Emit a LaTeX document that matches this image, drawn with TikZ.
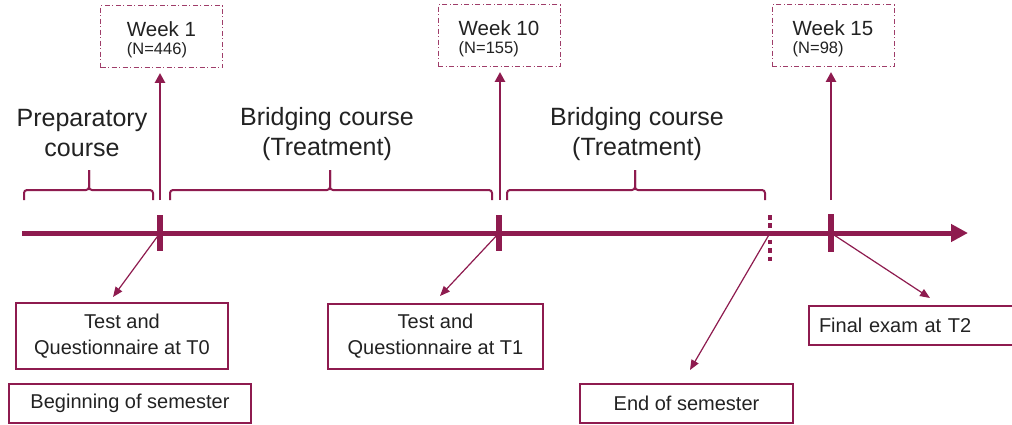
\documentclass[tikz,border=0pt]{standalone}
\usepackage{fontspec}
\setmainfont{Liberation Sans}
\usetikzlibrary{arrows.meta}
\definecolor{mar}{HTML}{8E1B4F}
\definecolor{txt}{HTML}{222222}
\begin{document}
\begin{tikzpicture}[x=1pt,y=-1pt,
 bigtxt/.style={text=txt,font=\fontsize{25}{30}\selectfont,align=center},
 boxtxt/.style={draw=mar,line width=2pt,text=txt,font=\fontsize{20}{26}\selectfont,align=center,inner sep=0pt},
 weekbox/.style={draw=mar!85,line width=0.9pt,dash pattern=on 5pt off 2.5pt on 1pt off 2.5pt,text=txt,align=left,minimum width=122pt,minimum height=62pt,inner sep=0pt,font=\fontsize{20.5}{20}\selectfont},
 bracepath/.style={draw=mar,line width=2pt,rounded corners=3pt},
 tickmark/.style={draw=mar,line width=6pt},
 thinarrow/.style={draw=mar,line width=1.2pt,-{Triangle[length=10pt,width=8pt]}},
 uparrow/.style={draw=mar,line width=2.5pt,-{Triangle[length=10pt,width=10pt]},shorten >=5pt}]
\useasboundingbox (0,0) rectangle (1012,424);
\fill[white] (0,0) rectangle (1012,424);

% coordinates on the timeline
\coordinate (ls) at (22,233);
\coordinate (le) at (968,233);
\coordinate (t0) at (160,233);
\coordinate (t1) at (499,233);
\coordinate (te) at (770,233);
\coordinate (t2) at (831,233);

% main timeline
\draw[draw=mar,line width=5pt,-{Triangle[length=17pt,width=17pt]}] (ls) -- (le);
\draw[tickmark] (160,215) -- (160,251);
\draw[tickmark] (499,215) -- (499,251);
\draw[tickmark] (831,214) -- (831,252);
\draw[draw=mar,line width=4pt,dash pattern=on 4.5pt off 3.8pt] (770,215) -- (770,261);

% week boxes
\node[weekbox] (w1) at (161.5,36.5) {\rule{0pt}{22pt}Week 1\\[-2pt]{\fontsize{16.5}{16}\selectfont (N=446)}};
\node[weekbox] (w10) at (499,35.5) {\rule{0pt}{22pt}Week 10\\[-2pt]{\fontsize{16.5}{16}\selectfont (N=155)}};
\node[weekbox] (w15) at (833,35.5) {\rule{0pt}{22pt}Week 15\\[-2pt]{\fontsize{16.5}{16}\selectfont (N=98)}};

\coordinate (u0) at (160,200);
\coordinate (u1) at (500,200);
\coordinate (u2) at (831,200);
\draw[uparrow] (u0) -- (u0 |- w1.south);
\draw[uparrow] (u1) -- (u1 |- w10.south);
\draw[uparrow] (u2) -- (u2 |- w15.south);

% braces
\draw[bracepath] (24,200) -- (24,190) -- (89,190) -- (89,170);
\draw[bracepath] (89,170) -- (89,190) -- (153,190) -- (153,200);
\draw[bracepath] (170,200) -- (170,190) -- (330,190) -- (330,170);
\draw[bracepath] (330,170) -- (330,190) -- (492,190) -- (492,200);
\draw[bracepath] (507,200) -- (507,190) -- (635,190) -- (635,170);
\draw[bracepath] (635,170) -- (635,190) -- (765,190) -- (765,200);

% phase labels
\node[bigtxt] (prep) at (82,133) {Preparatory\\course};
\node[bigtxt] (br1) at (327,134) {Bridging course\\(Treatment)};
\node[bigtxt] (br2) at (637,134) {Bridging course\\(Treatment)};

% bottom boxes
\node[boxtxt,minimum width=212pt,minimum height=66pt] (b0) at (122,336) {Test and\\Questionnaire at T0};
\node[boxtxt,minimum width=242pt,minimum height=39pt] (beg) at (130,403.5) {Beginning of semester};
\node[boxtxt,minimum width=215pt,minimum height=65pt] (b1) at (435.5,336.5) {Test and\\Questionnaire at T1};
\node[boxtxt,minimum width=213pt,minimum height=39pt] (endsem) at (686.5,403.5) {End of semester};
\node[boxtxt,anchor=west,minimum height=39pt,text width=192pt,align=left,inner xsep=10pt] (fin) at (808,325.5) {Final exam at T2};

% connector end points
\coordinate (c0) at (113,297);
\coordinate (c1) at (440,296);
\coordinate (ce) at (690,370);
\coordinate (c2) at (930,298);
\draw[thinarrow] (t0) -- (c0);
\draw[thinarrow] (t1) -- (c1);
\draw[thinarrow] (te) -- (ce);
\draw[thinarrow] (t2) -- (c2);
\end{tikzpicture}
\end{document}
